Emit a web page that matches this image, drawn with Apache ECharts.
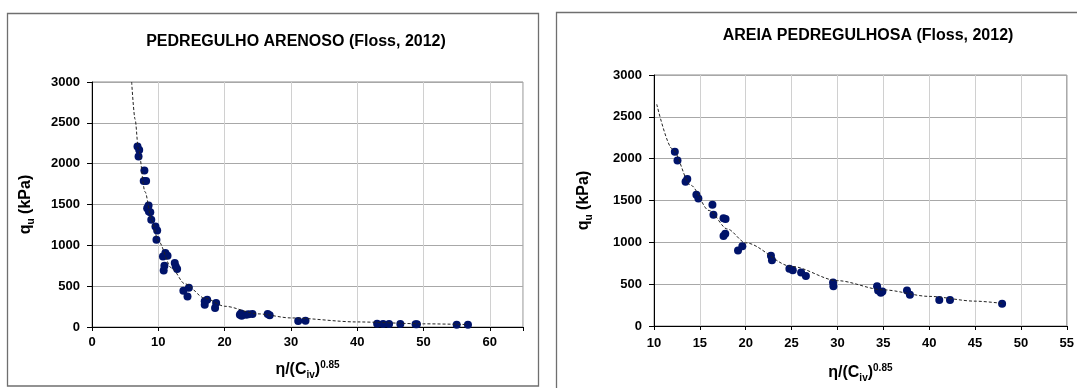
<!DOCTYPE html>
<html>
<head>
<meta charset="utf-8">
<script src="https://cdn.jsdelivr.net/npm/echarts@6/dist/echarts.min.js"></script>
<style>
html,body{margin:0;padding:0;background:#fff;}
#c{width:1077px;height:388px;}
</style>
</head>
<body>
<div id="c"></div>
<script>
// ---- data ----
const leftTitle = 'PEDREGULHO ARENOSO (Floss, 2012)';
const rightTitle = 'AREIA PEDREGULHOSA (Floss, 2012)';

const leftX = [6.86,7.12,7.02,7.9,7.8,8.16,8.53,8.32,8.58,8.79,8.94,9.57,9.83,9.72,10.7,11.07,11.39,10.81,10.92,12.48,12.63,12.84,13.78,14.61,14.4,17.0,17.0,17.37,18.72,18.56,22.46,22.57,22.3,23.24,23.6,24.2,26.5,26.8,31.1,32.2,43.0,43.9,44.8,46.5,49.0,48.8,55.0,56.7];
const leftY = [2209,2168,2087,1916,1789,1789,1488,1455,1414,1406,1312,1231,1182,1068,864,905,872,693,750,783,742,709,444,481,375,314,273,334,293,232,165,139,151,151,155,160,159,143,73,77,40,38,38,36,33,33,28,27];

const leftTrendX = [5.98,6.5,7,8,9,10,12,14,17,20,25,30,40,50,56.7];
const leftTrendY = [3000,2543,2177,1655,1304,1052,722,529,354,254,161,111,62,39,30];

const rightX = [12.27,12.56,13.44,13.63,14.62,14.84,16.37,16.48,17.58,17.8,17.58,17.77,19.16,19.63,22.75,22.86,24.76,25.13,26.04,26.56,29.52,29.56,34.32,34.43,34.73,34.9,37.58,37.9,41.1,42.27,47.95];
const rightY = [2082,1978,1724,1758,1569,1523,1450,1330,1288,1280,1076,1103,902,953,841,787,683,667,640,598,521,474,474,424,397,413,424,374,312,312,266];

const rightTrendX = [10.3,12,14,16,18,20,25,30,35,40,45,48];
const rightTrendY = [2650,2117,1683,1380,1159,994,712,542,432,354,297,270];

const yTicks = [0,500,1000,1500,2000,2500,3000];

// ---- chart ----
const FONT = '"Liberation Sans", Arial, sans-serif';
const pairs = (xs, ys) => xs.map((x, i) => [x, ys[i]]);

const richName = {
  n: {fontSize: 16, fontWeight: 'bold', fontFamily: FONT, color: '#000', lineHeight: 20},
  sub: {fontSize: 10, fontWeight: 'bold', fontFamily: FONT, color: '#000', lineHeight: 10, verticalAlign: 'bottom'},
  sup: {fontSize: 10, fontWeight: 'bold', fontFamily: FONT, color: '#000', lineHeight: 10, verticalAlign: 'top'}
};

function xAxis(gridIndex, min, max, interval, gap, margin) {
  return {
    type: 'value', gridIndex, min, max, interval,
    name: '{n|η/(C}{sub|iv}{n|)}{sup|0.85}',
    nameLocation: 'middle', nameGap: gap,
    nameTextStyle: {rich: richName},
    axisLine: {show: true, onZero: false, lineStyle: {color: '#000', width: 1}},
    axisTick: {show: true, length: 4, lineStyle: {color: '#000'}},
    axisLabel: {fontSize: 13, fontWeight: 'bold', fontFamily: FONT, color: '#000', margin,
      showMaxLabel: true,
      formatter: v => (v % interval === 0 ? String(v) : '')},
    splitLine: {show: true, lineStyle: {color: '#d0d0d0', width: 1}}
  };
}
function yAxis(gridIndex, gap, margin) {
  return {
    type: 'value', gridIndex, min: 0, max: 3000, interval: 500,
    name: '{n|q}{sub|u}{n| (kPa)}',
    nameLocation: 'middle', nameGap: gap, nameRotate: 90,
    nameTextStyle: {rich: richName},
    axisLine: {show: true, onZero: false, lineStyle: {color: '#000', width: 1}},
    axisTick: {show: true, length: 5, lineStyle: {color: '#000'}},
    axisLabel: {fontSize: 13, fontWeight: 'bold', fontFamily: FONT, color: '#000', margin,
      formatter: v => (yTicks.indexOf(v) >= 0 ? String(v) : '')},
    splitLine: {show: true, lineStyle: {color: '#a8a8a8', width: 1}}
  };
}

const markerColor = '#00136a';
const trendStyle = {color: '#222', width: 1, type: [3, 2]};

const option = {
  animation: false,
  backgroundColor: '#fff',
  grid: [
    {left: 92, top: 82, width: 431, height: 245, show: true, borderColor: '#8c8c8c', borderWidth: 1, containLabel: false},
    {left: 654, top: 75, width: 421, height: 259, show: true, borderColor: '#8c8c8c', borderWidth: 1, containLabel: false}
  ],
  xAxis: [
    xAxis(0, 0, 65, 10, 33, 9),
    xAxis(1, 10, 55, 5, 37, 11)
  ],
  yAxis: [
    yAxis(0, 56, 12),
    yAxis(1, 60, 12)
  ],
  graphic: [
    {type: 'rect', shape: {x: 7.5, y: 13.5, width: 531, height: 372.5}, style: {fill: 'none', stroke: '#6f6f6f', lineWidth: 1.3}, silent: true, z: -1},
    {type: 'rect', shape: {x: 556.5, y: 12.5, width: 620, height: 420}, style: {fill: 'none', stroke: '#6f6f6f', lineWidth: 1.3}, silent: true, z: -1},
    {type: 'text', x: 296, y: 42, style: {text: leftTitle, align: 'center', verticalAlign: 'middle', font: 'bold 16px ' + FONT, fill: '#000'}},
    {type: 'text', x: 868, y: 36, style: {text: rightTitle, align: 'center', verticalAlign: 'middle', font: 'bold 16px ' + FONT, fill: '#000'}}
  ],
  series: [
    {type: 'line', xAxisIndex: 0, yAxisIndex: 0, data: pairs(leftTrendX, leftTrendY), smooth: 0.3, smoothMonotone: 'x',
      showSymbol: false, symbol: 'none', lineStyle: trendStyle, z: 3},
    {type: 'scatter', xAxisIndex: 0, yAxisIndex: 0, data: pairs(leftX, leftY), symbol: 'circle', symbolSize: 8,
      itemStyle: {color: markerColor, opacity: 1}, z: 2},
    {type: 'line', xAxisIndex: 1, yAxisIndex: 1, data: pairs(rightTrendX, rightTrendY), smooth: 0.3, smoothMonotone: 'x',
      showSymbol: false, symbol: 'none', lineStyle: trendStyle, z: 3},
    {type: 'scatter', xAxisIndex: 1, yAxisIndex: 1, data: pairs(rightX, rightY), symbol: 'circle', symbolSize: 8,
      itemStyle: {color: markerColor, opacity: 1}, z: 2}
  ]
};

const chart = echarts.init(document.getElementById('c'), null, {renderer: 'canvas'});
chart.setOption(option);
</script>
</body>
</html>
